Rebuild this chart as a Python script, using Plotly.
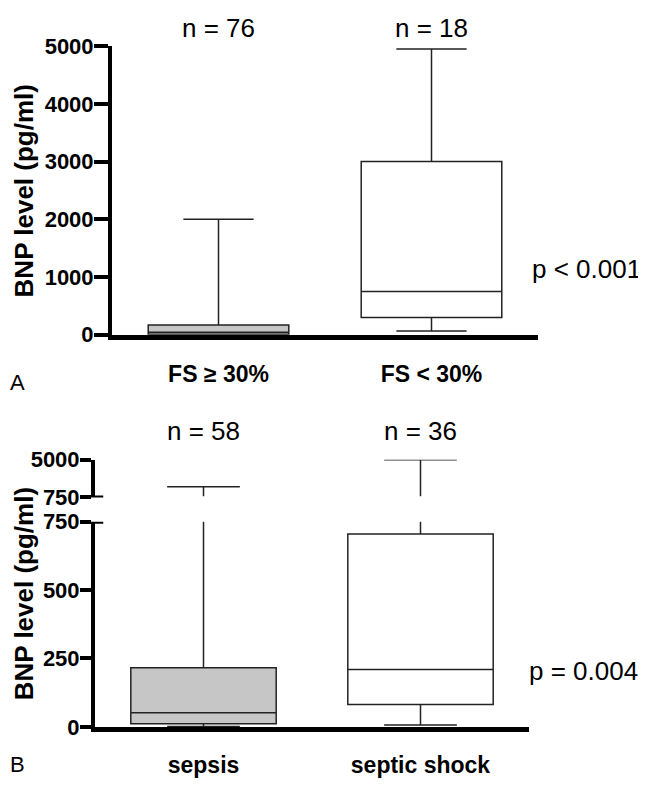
import plotly.graph_objects as go

W, H = 646, 791
OFF = 8  # page body margin that offsets the plot div

# ---------------- data ----------------
top_categories = ["FS ≥ 30%", "FS < 30%"]
top_n = [76, 18]
top_min = [0, 65]
top_q1 = [8, 300]
top_median = [42, 750]
top_q3 = [170, 3000]
top_max = [2000, 4950]
top_ticks = [0, 1000, 2000, 3000, 4000, 5000]
top_p = "p < 0.001"

bot_categories = ["sepsis", "septic shock"]
bot_n = [58, 36]
bot_min = [2, 7]
bot_q1 = [12, 82]
bot_median = [52, 210]
bot_q3 = [216, 705]
bot_max = [1950, 5000]
bot_low_ticks = [0, 250, 500, 750]
bot_high_ticks = [750, 5000]
bot_p = "p = 0.004"

fills = ["#c6c6c6", "#ffffff"]

FONT = "Liberation Sans, Arial, sans-serif"


def py(px):
    return 1 - (px - OFF) / H


def pxx(px):
    return (px - OFF) / W


fig = go.Figure()

# top panel boxes
for i, cat in enumerate(top_categories):
    fig.add_trace(go.Box(
        x=[cat], q1=[top_q1[i]], median=[top_median[i]], q3=[top_q3[i]],
        lowerfence=[top_min[i]], upperfence=[top_max[i]],
        width=0.66, whiskerwidth=0.5, fillcolor=fills[i],
        line=dict(color="#222222", width=1.5), boxpoints=False,
        xaxis="x", yaxis="y", showlegend=False, hoverinfo="skip"))

# bottom panel boxes: lower and upper segments of the broken axis
for yax in ["y2", "y3"]:
    for i, cat in enumerate(bot_categories):
        fig.add_trace(go.Box(
            x=[cat], q1=[bot_q1[i]], median=[bot_median[i]], q3=[bot_q3[i]],
            lowerfence=[bot_min[i]], upperfence=[bot_max[i]],
            width=0.67, whiskerwidth=0.5, fillcolor=fills[i],
            line=dict(color="#222222", width=1.5), boxpoints=False,
            xaxis="x2", yaxis=yax, showlegend=False, hoverinfo="skip"))

axis_common = dict(showgrid=False, zeroline=False, showline=True,
                   linecolor="black", ticks="outside", tickcolor="black")
tickfont = dict(size=22, family="Liberation Sans", weight="bold")
catfont = dict(size=23, family="Liberation Sans", weight="bold")

fig.update_layout(
    width=W, height=H, margin=dict(l=0, r=0, t=0, b=0),
    plot_bgcolor="white", paper_bgcolor="white", boxmode="overlay",
    font=dict(family=FONT, color="black"),
    xaxis=dict(domain=[pxx(112), pxx(538)], anchor="y", range=[-0.5, 1.5],
               categoryorder="array", categoryarray=top_categories,
               linewidth=5, ticks="", showgrid=False, zeroline=False, showline=True,
               linecolor="black", tickfont=catfont, ticklabelstandoff=15),
    yaxis=dict(domain=[py(333), py(35)], anchor="x", range=[0, 5000],
               tickvals=top_ticks, linewidth=4, ticklen=14, tickwidth=4,
               tickfont=tickfont, ticklabelstandoff=-4, **axis_common),
    xaxis2=dict(domain=[pxx(95), pxx(529)], anchor="y2", range=[-0.5, 1.5],
                categoryorder="array", categoryarray=bot_categories,
                linewidth=5, ticks="", showgrid=False, zeroline=False, showline=True,
                linecolor="black", tickfont=catfont, ticklabelstandoff=13),
    yaxis2=dict(domain=[py(738), py(526)], anchor="x2", range=[0, 750],
                tickvals=bot_low_ticks, linewidth=4, ticklen=11, tickwidth=4,
                tickfont=tickfont, ticklabelstandoff=-4, **axis_common),
    yaxis3=dict(domain=[py(501), py(462)], anchor="x2", range=[750, 5000],
                tickvals=bot_high_ticks, linewidth=4, ticklen=11, tickwidth=4,
                tickfont=tickfont, ticklabelstandoff=-4, **axis_common),
)

# hide the sliver of the clipped box edge at the bottom of the upper segment
fig.add_shape(type="rect", xref="x2 domain", yref="y3 domain", x0=0.012, x1=1,
              y0=-0.05, y1=0.03, fillcolor="white", line=dict(width=0), layer="above")

# break marks crossing the axis at 750
for yref in ["y2", "y3"]:
    fig.add_shape(type="line", xref="x2 domain", yref=yref, x0=-0.025, x1=0.019,
                  y0=750, y1=750, line=dict(color="black", width=4), layer="above")

ann = []
for i, cat in enumerate(top_categories):
    ann.append(dict(x=cat, xref="x", y=py(16), yref="paper", text=f"n = {top_n[i]}",
                    showarrow=False, font=dict(size=26), xanchor="center", yanchor="middle"))
for i, cat in enumerate(bot_categories):
    ann.append(dict(x=cat, xref="x2", y=py(432), yref="paper", text=f"n = {bot_n[i]}",
                    showarrow=False, font=dict(size=26), xanchor="center", yanchor="middle"))
ann.append(dict(x=pxx(530), y=py(265), xref="paper", yref="paper", text=top_p,
                showarrow=False, font=dict(size=26), xanchor="left", yanchor="middle"))
ann.append(dict(x=pxx(527), y=py(680), xref="paper", yref="paper", text=bot_p,
                showarrow=False, font=dict(size=26), xanchor="left", yanchor="middle"))
for yc in (185, 601):
    ann.append(dict(x=0, y=py(yc), xref="paper", yref="paper", text="<b>BNP level (pg/ml)</b>",
                    textangle=-90, showarrow=False, font=dict(size=26),
                    xanchor="left", yanchor="middle", borderpad=0))
ann.append(dict(x=pxx(8), y=py(382), xref="paper", yref="paper", text="A",
                showarrow=False, font=dict(size=22), xanchor="left", yanchor="middle"))
ann.append(dict(x=pxx(8), y=py(777), xref="paper", yref="paper", text="B",
                showarrow=False, font=dict(size=22), xanchor="left", yanchor="middle"))
fig.update_layout(annotations=ann)

fig.write_html("out.html")
